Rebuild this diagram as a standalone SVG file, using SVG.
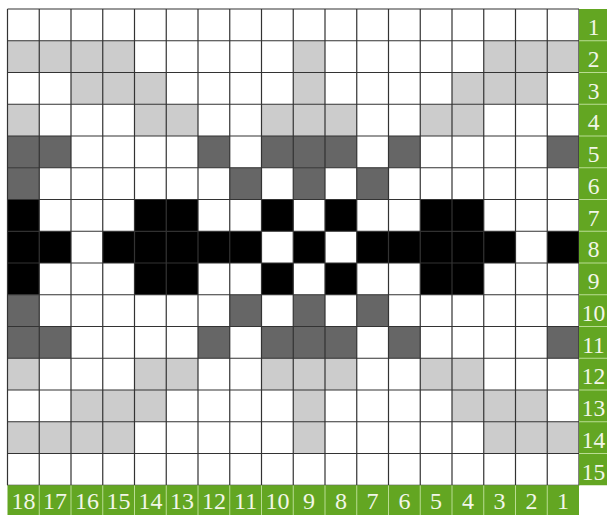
<svg xmlns="http://www.w3.org/2000/svg" width="607" height="515" viewBox="0 0 607 515">
<style>
.L{fill:#cccccc}
.D{fill:#666666}
.B{fill:#000000}
.grid{fill:none;stroke:#333333;stroke-width:1.2}
.green{fill:#63a622}
.sep{stroke:#b9dc92;stroke-width:1}
.lbl{font-family:"Liberation Serif","DejaVu Serif",serif;fill:#f2f6e8;text-anchor:middle}
.rl{font-size:23.5px}
.bl{font-size:24px}
</style>
<rect x="0" y="0" width="607" height="515" fill="#ffffff"/>
<g id="cells" transform="translate(7.5,9) scale(31.75)">
  <rect class="L" x="0" y="1" width="4" height="1"/><rect class="L" x="9" y="1" width="1" height="1"/><rect class="L" x="15" y="1" width="3" height="1"/>
  <rect class="L" x="2" y="2" width="3" height="1"/><rect class="L" x="9" y="2" width="1" height="1"/><rect class="L" x="14" y="2" width="3" height="1"/>
  <rect class="L" x="0" y="3" width="1" height="1"/><rect class="L" x="4" y="3" width="2" height="1"/><rect class="L" x="8" y="3" width="3" height="1"/><rect class="L" x="13" y="3" width="2" height="1"/>
  <rect class="L" x="0" y="11" width="1" height="1"/><rect class="L" x="4" y="11" width="2" height="1"/><rect class="L" x="8" y="11" width="3" height="1"/><rect class="L" x="13" y="11" width="2" height="1"/>
  <rect class="L" x="2" y="12" width="3" height="1"/><rect class="L" x="9" y="12" width="1" height="1"/><rect class="L" x="14" y="12" width="3" height="1"/>
  <rect class="L" x="0" y="13" width="4" height="1"/><rect class="L" x="9" y="13" width="1" height="1"/><rect class="L" x="15" y="13" width="3" height="1"/>
  <rect class="D" x="0" y="4" width="2" height="1"/><rect class="D" x="6" y="4" width="1" height="1"/><rect class="D" x="8" y="4" width="3" height="1"/><rect class="D" x="12" y="4" width="1" height="1"/><rect class="D" x="17" y="4" width="1" height="1"/>
  <rect class="D" x="0" y="5" width="1" height="1"/><rect class="D" x="7" y="5" width="1" height="1"/><rect class="D" x="9" y="5" width="1" height="1"/><rect class="D" x="11" y="5" width="1" height="1"/>
  <rect class="D" x="0" y="9" width="1" height="1"/><rect class="D" x="7" y="9" width="1" height="1"/><rect class="D" x="9" y="9" width="1" height="1"/><rect class="D" x="11" y="9" width="1" height="1"/>
  <rect class="D" x="0" y="10" width="2" height="1"/><rect class="D" x="6" y="10" width="1" height="1"/><rect class="D" x="8" y="10" width="3" height="1"/><rect class="D" x="12" y="10" width="1" height="1"/><rect class="D" x="17" y="10" width="1" height="1"/>
  <rect class="B" x="0" y="6" width="1" height="1"/><rect class="B" x="4" y="6" width="2" height="1"/><rect class="B" x="8" y="6" width="1" height="1"/><rect class="B" x="10" y="6" width="1" height="1"/><rect class="B" x="13" y="6" width="2" height="1"/>
  <rect class="B" x="0" y="7" width="2" height="1"/><rect class="B" x="3" y="7" width="5" height="1"/><rect class="B" x="9" y="7" width="1" height="1"/><rect class="B" x="11" y="7" width="5" height="1"/><rect class="B" x="17" y="7" width="1" height="1"/>
  <rect class="B" x="0" y="8" width="1" height="1"/><rect class="B" x="4" y="8" width="2" height="1"/><rect class="B" x="8" y="8" width="1" height="1"/><rect class="B" x="10" y="8" width="1" height="1"/><rect class="B" x="13" y="8" width="2" height="1"/>
  <path class="grid" vector-effect="non-scaling-stroke" d="M0 0V15M1 0V15M2 0V15M3 0V15M4 0V15M5 0V15M6 0V15M7 0V15M8 0V15M9 0V15M10 0V15M11 0V15M12 0V15M13 0V15M14 0V15M15 0V15M16 0V15M17 0V15M18 0V15M0 0H18M0 1H18M0 2H18M0 3H18M0 4H18M0 5H18M0 6H18M0 7H18M0 8H18M0 9H18M0 10H18M0 11H18M0 12H18M0 13H18M0 14H18M0 15H18"/>
</g>
<g id="row-labels">
  <rect class="green" x="579" y="9" width="28" height="476.25"/>
  <path class="sep" d="M579 40.75H607M579 72.5H607M579 104.25H607M579 136H607M579 167.75H607M579 199.5H607M579 231.25H607M579 263H607M579 294.75H607M579 326.5H607M579 358.25H607M579 390H607M579 421.75H607M579 453.5H607"/>
  <text class="lbl rl" x="593.5" y="35">1</text>
  <text class="lbl rl" x="593.5" y="66.75">2</text>
  <text class="lbl rl" x="593.5" y="98.5">3</text>
  <text class="lbl rl" x="593.5" y="130.25">4</text>
  <text class="lbl rl" x="593.5" y="162">5</text>
  <text class="lbl rl" x="593.5" y="193.75">6</text>
  <text class="lbl rl" x="593.5" y="225.5">7</text>
  <text class="lbl rl" x="593.5" y="257.25">8</text>
  <text class="lbl rl" x="593.5" y="289">9</text>
  <text class="lbl rl" x="593.5" y="320.75">10</text>
  <text class="lbl rl" x="593.5" y="352.5">11</text>
  <text class="lbl rl" x="593.5" y="384.25">12</text>
  <text class="lbl rl" x="593.5" y="416">13</text>
  <text class="lbl rl" x="593.5" y="447.75">14</text>
  <text class="lbl rl" x="593.5" y="479.5">15</text>
</g>
<g id="col-labels">
  <rect class="green" x="7.5" y="485.25" width="571.5" height="29.75"/>
  <path class="sep" d="M39.25 485.5V515M71 485.5V515M102.75 485.5V515M134.5 485.5V515M166.25 485.5V515M198 485.5V515M229.75 485.5V515M261.5 485.5V515M293.25 485.5V515M325 485.5V515M356.75 485.5V515M388.5 485.5V515M420.25 485.5V515M452 485.5V515M483.75 485.5V515M515.5 485.5V515M547.25 485.5V515"/>
  <text class="lbl bl" x="23.4" y="509">18</text>
  <text class="lbl bl" x="55.1" y="509">17</text>
  <text class="lbl bl" x="86.9" y="509">16</text>
  <text class="lbl bl" x="118.6" y="509">15</text>
  <text class="lbl bl" x="150.4" y="509">14</text>
  <text class="lbl bl" x="182.1" y="509">13</text>
  <text class="lbl bl" x="213.9" y="509">12</text>
  <text class="lbl bl" x="245.6" y="509">11</text>
  <text class="lbl bl" x="277.4" y="509">10</text>
  <text class="lbl bl" x="309.1" y="509">9</text>
  <text class="lbl bl" x="340.9" y="509">8</text>
  <text class="lbl bl" x="372.6" y="509">7</text>
  <text class="lbl bl" x="404.4" y="509">6</text>
  <text class="lbl bl" x="436.1" y="509">5</text>
  <text class="lbl bl" x="467.9" y="509">4</text>
  <text class="lbl bl" x="499.6" y="509">3</text>
  <text class="lbl bl" x="531.4" y="509">2</text>
  <text class="lbl bl" x="563.1" y="509">1</text>
</g>
</svg>
